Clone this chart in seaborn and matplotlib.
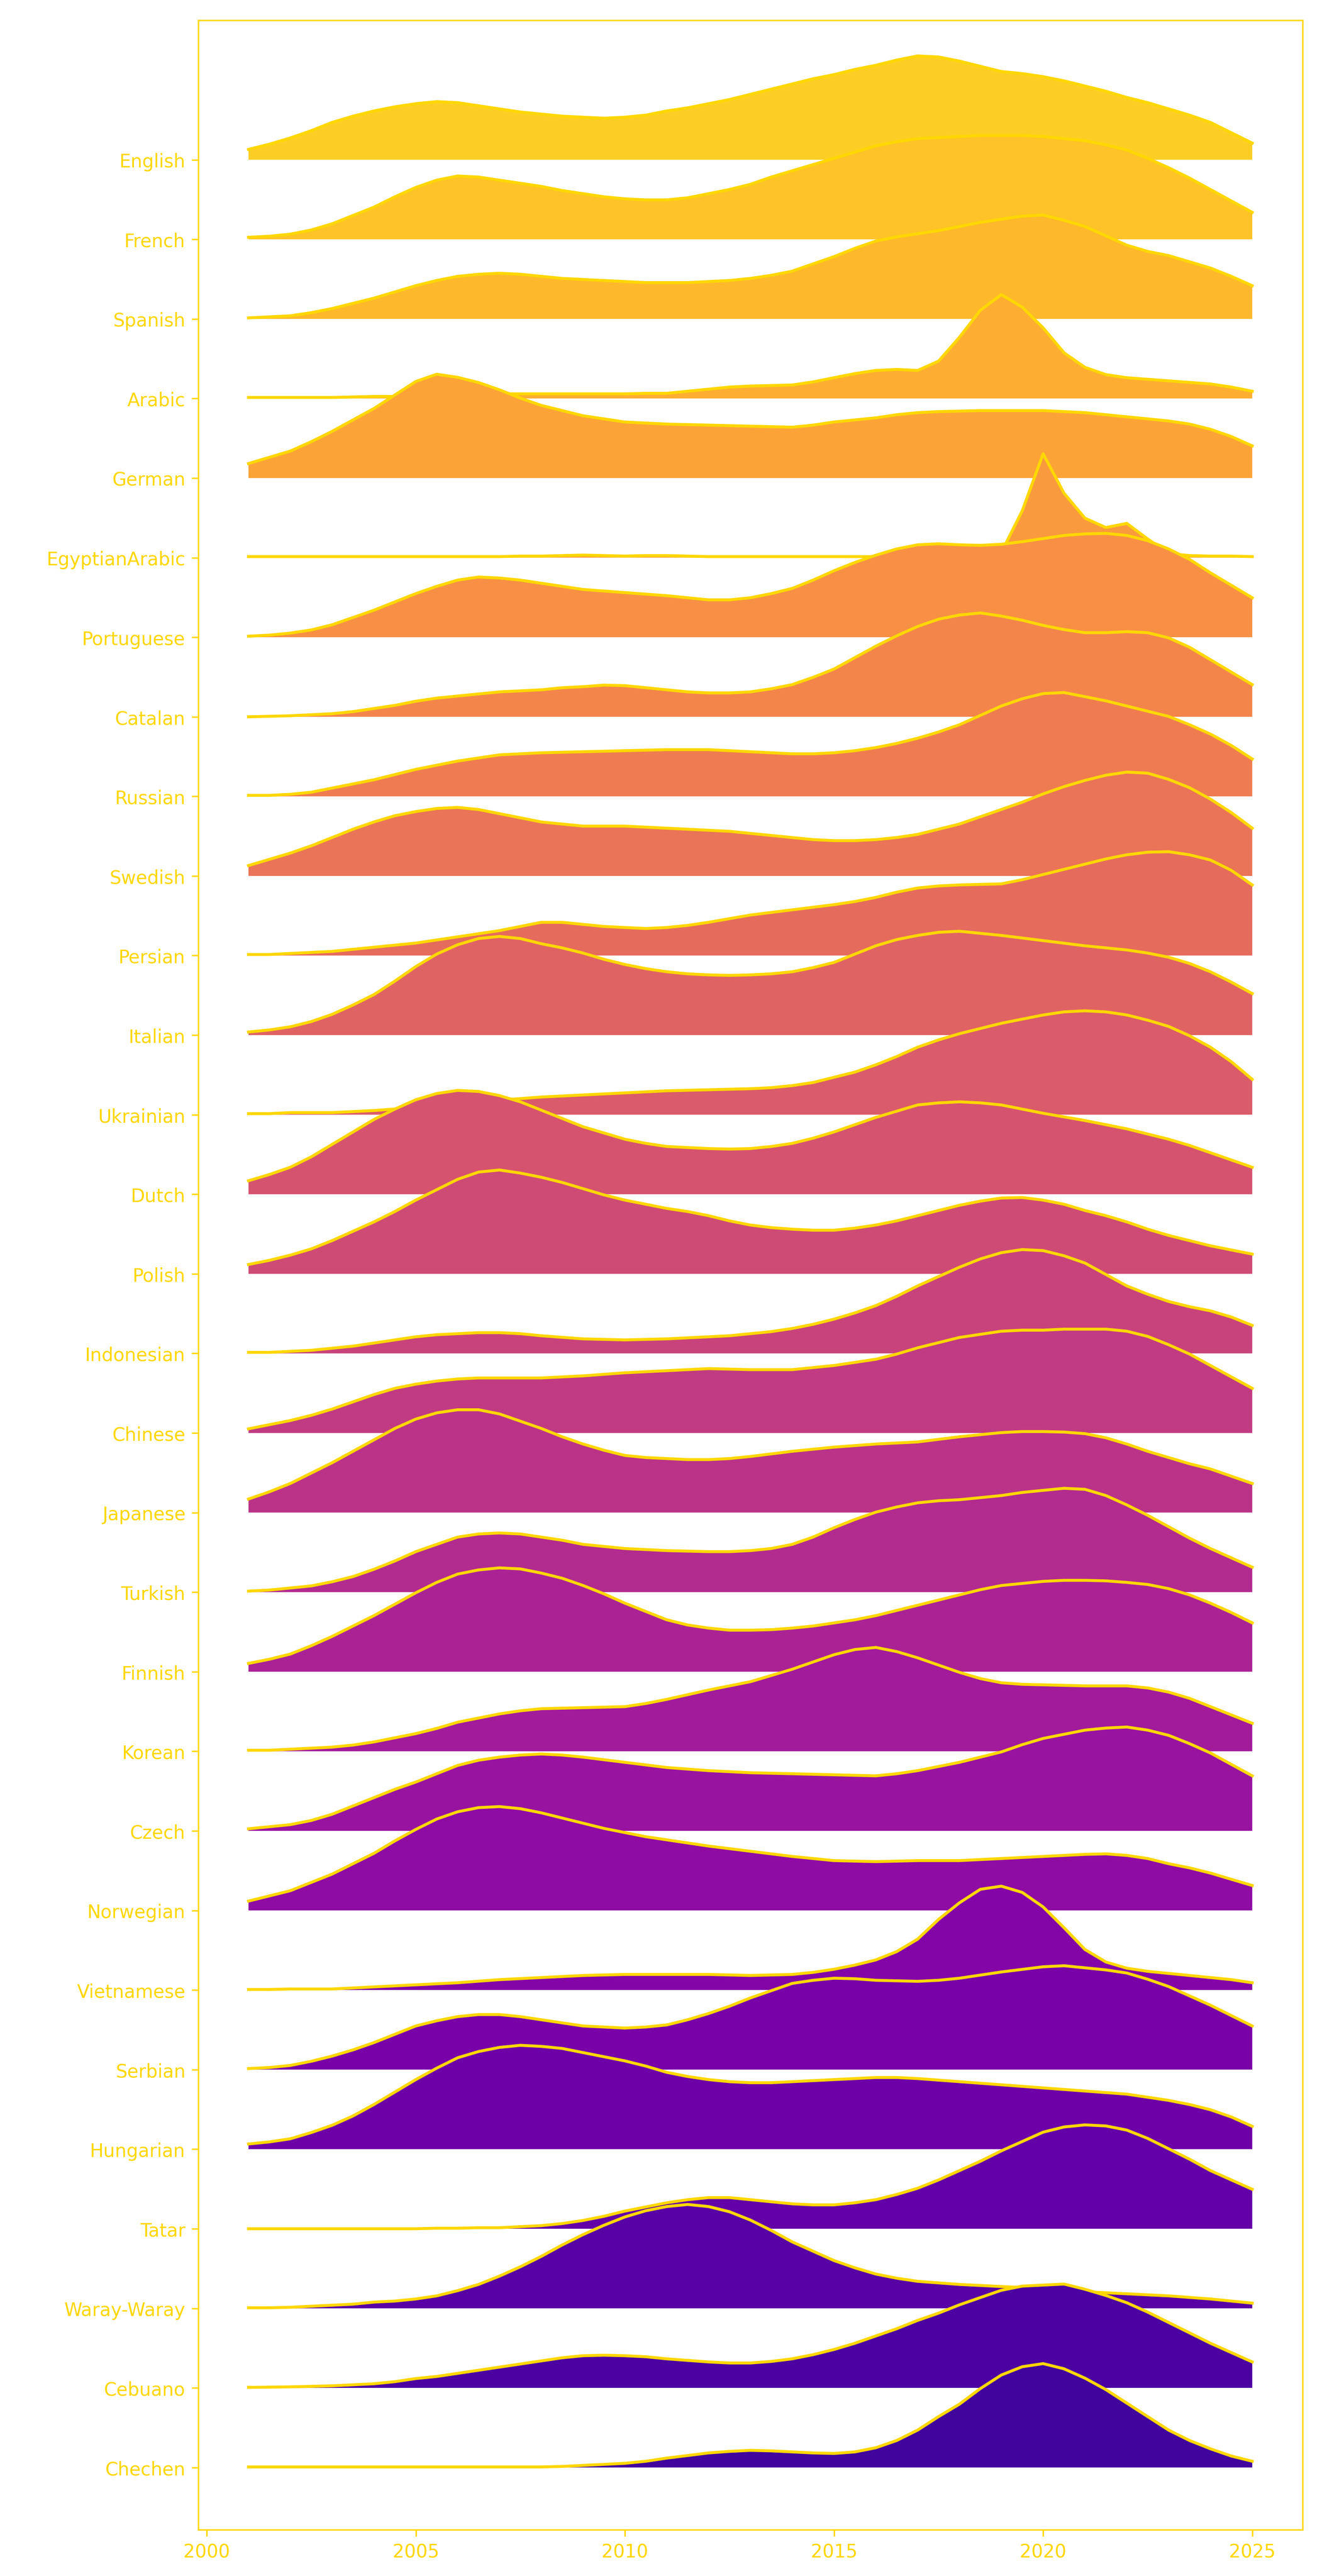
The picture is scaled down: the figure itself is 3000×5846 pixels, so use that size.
import matplotlib
matplotlib.use("Agg")
import matplotlib.pyplot as plt
import numpy as np
import seaborn as sns

# sampling positions (every half year) shared by all ridges
YEARS = np.arange(2001, 2025.01, 0.5)

LANGUAGES = [
    "English", "French", "Spanish", "Arabic", "German", "EgyptianArabic",
    "Portuguese", "Catalan", "Russian", "Swedish", "Persian", "Italian",
    "Ukrainian", "Dutch", "Polish", "Indonesian", "Chinese", "Japanese",
    "Turkish", "Finnish", "Korean", "Czech", "Norwegian", "Vietnamese",
    "Serbian", "Hungarian", "Tatar", "Waray-Waray", "Cebuano", "Chechen",
]

ENGLISH = [0.10, 0.15, 0.21, 0.28, 0.36, 0.42, 0.47, 0.51, 0.54, 0.56, 0.55, 0.52, 0.49, 0.46, 0.44, 0.42, 0.41,
           0.40, 0.41, 0.43, 0.47, 0.50, 0.54, 0.58, 0.63, 0.68, 0.73, 0.78, 0.82, 0.87, 0.91, 0.96, 1.00, 0.99,
           0.95, 0.90, 0.85, 0.83, 0.80, 0.76, 0.71, 0.66, 0.60, 0.55, 0.49, 0.43, 0.36, 0.26, 0.16]
FRENCH = [0.02, 0.03, 0.05, 0.09, 0.15, 0.23, 0.31, 0.41, 0.50, 0.57, 0.61, 0.60, 0.57, 0.54, 0.51, 0.47, 0.44,
          0.41, 0.39, 0.38, 0.38, 0.40, 0.44, 0.48, 0.53, 0.60, 0.66, 0.72, 0.78, 0.84, 0.90, 0.94, 0.97, 0.98,
          0.99, 1.00, 1.00, 1.00, 0.99, 0.97, 0.95, 0.91, 0.86, 0.78, 0.69, 0.59, 0.48, 0.37, 0.26]
SPANISH = [0.01, 0.02, 0.03, 0.06, 0.10, 0.15, 0.20, 0.26, 0.32, 0.37, 0.41, 0.43, 0.44, 0.43, 0.41, 0.39, 0.38,
           0.37, 0.36, 0.35, 0.35, 0.35, 0.36, 0.37, 0.39, 0.42, 0.46, 0.53, 0.60, 0.68, 0.75, 0.79, 0.82, 0.85,
           0.89, 0.93, 0.96, 0.99, 1.00, 0.95, 0.89, 0.80, 0.71, 0.65, 0.61, 0.55, 0.49, 0.41, 0.32]
ARABIC = [0.01, 0.01, 0.01, 0.01, 0.01, 0.015, 0.02, 0.02, 0.02, 0.025, 0.03, 0.04, 0.045, 0.045, 0.045, 0.045,
          0.045, 0.045, 0.045, 0.05, 0.05, 0.07, 0.09, 0.11, 0.12, 0.125, 0.13, 0.16, 0.20, 0.24, 0.27, 0.28, 0.27,
          0.36, 0.59, 0.85, 1.00, 0.88, 0.68, 0.44, 0.30, 0.23, 0.20, 0.185, 0.17, 0.155, 0.14, 0.11, 0.07]
GERMAN = [0.14, 0.20, 0.26, 0.35, 0.45, 0.56, 0.67, 0.80, 0.93, 1.00, 0.97, 0.92, 0.85, 0.77, 0.70, 0.65, 0.60,
          0.57, 0.54, 0.53, 0.52, 0.515, 0.51, 0.505, 0.50, 0.495, 0.49, 0.51, 0.54, 0.56, 0.58, 0.61, 0.63, 0.64,
          0.645, 0.65, 0.65, 0.65, 0.65, 0.64, 0.63, 0.61, 0.59, 0.57, 0.55, 0.52, 0.47, 0.40, 0.31]
EGYPTIAN_ARABIC = [0.01, 0.01, 0.01, 0.01, 0.01, 0.01, 0.01, 0.01, 0.01, 0.01, 0.01, 0.01, 0.01, 0.015, 0.015,
                   0.02, 0.025, 0.02, 0.015, 0.02, 0.02, 0.015, 0.01, 0.01, 0.01, 0.01, 0.01, 0.01, 0.01, 0.01,
                   0.01, 0.01, 0.01, 0.01, 0.01, 0.02, 0.05, 0.45, 1.00, 0.62, 0.38, 0.29, 0.33, 0.18, 0.04, 0.02,
                   0.015, 0.015, 0.01]
PORTUGUESE = [0.01, 0.02, 0.04, 0.07, 0.12, 0.19, 0.26, 0.34, 0.42, 0.49, 0.55, 0.58, 0.57, 0.55, 0.52, 0.49, 0.46,
              0.445, 0.43, 0.415, 0.40, 0.38, 0.36, 0.36, 0.38, 0.42, 0.47, 0.55, 0.64, 0.72, 0.79, 0.85, 0.89, 0.90,
              0.89, 0.885, 0.895, 0.92, 0.95, 0.98, 0.995, 1.00, 0.98, 0.93, 0.85, 0.75, 0.62, 0.50, 0.38]
CATALAN = [0.00, 0.005, 0.01, 0.02, 0.03, 0.05, 0.08, 0.11, 0.15, 0.18, 0.20, 0.22, 0.24, 0.25, 0.26, 0.28, 0.29,
           0.305, 0.30, 0.28, 0.26, 0.24, 0.23, 0.23, 0.24, 0.27, 0.31, 0.38, 0.46, 0.57, 0.68, 0.78, 0.87, 0.94,
           0.98, 1.00, 0.97, 0.93, 0.88, 0.84, 0.81, 0.81, 0.82, 0.81, 0.76, 0.67, 0.55, 0.43, 0.31]
RUSSIAN = [0.01, 0.01, 0.02, 0.04, 0.08, 0.12, 0.16, 0.21, 0.26, 0.30, 0.34, 0.37, 0.40, 0.41, 0.42, 0.425, 0.43,
           0.435, 0.44, 0.445, 0.45, 0.45, 0.45, 0.44, 0.43, 0.42, 0.41, 0.41, 0.42, 0.44, 0.47, 0.51, 0.56, 0.62,
           0.69, 0.78, 0.87, 0.94, 0.99, 1.00, 0.96, 0.92, 0.87, 0.82, 0.77, 0.69, 0.60, 0.49, 0.36]
SWEDISH = [0.10, 0.16, 0.22, 0.29, 0.37, 0.45, 0.52, 0.58, 0.62, 0.65, 0.66, 0.64, 0.60, 0.56, 0.52, 0.50, 0.48,
           0.48, 0.48, 0.47, 0.46, 0.45, 0.44, 0.43, 0.41, 0.39, 0.37, 0.35, 0.34, 0.34, 0.35, 0.37, 0.40, 0.45,
           0.50, 0.57, 0.64, 0.71, 0.79, 0.86, 0.92, 0.97, 1.00, 0.99, 0.93, 0.85, 0.74, 0.61, 0.46]
PERSIAN = [0.01, 0.01, 0.02, 0.03, 0.04, 0.06, 0.08, 0.10, 0.12, 0.15, 0.18, 0.21, 0.24, 0.28, 0.32, 0.32, 0.30,
           0.28, 0.27, 0.26, 0.27, 0.29, 0.32, 0.355, 0.39, 0.415, 0.44, 0.465, 0.49, 0.52, 0.56, 0.61, 0.65, 0.67,
           0.68, 0.685, 0.69, 0.73, 0.78, 0.83, 0.88, 0.93, 0.97, 0.995, 1.00, 0.97, 0.92, 0.82, 0.68]
ITALIAN = [0.03, 0.05, 0.08, 0.13, 0.20, 0.29, 0.39, 0.52, 0.66, 0.78, 0.87, 0.93, 0.95, 0.93, 0.88, 0.84, 0.79,
           0.73, 0.68, 0.64, 0.61, 0.59, 0.58, 0.575, 0.58, 0.59, 0.61, 0.65, 0.70, 0.78, 0.86, 0.92, 0.96, 0.99,
           1.00, 0.98, 0.96, 0.935, 0.91, 0.885, 0.86, 0.84, 0.82, 0.79, 0.75, 0.69, 0.61, 0.51, 0.40]
UKRAINIAN = [0.01, 0.01, 0.02, 0.02, 0.02, 0.03, 0.04, 0.055, 0.07, 0.085, 0.10, 0.12, 0.14, 0.155, 0.17, 0.18,
             0.19, 0.20, 0.21, 0.22, 0.23, 0.235, 0.24, 0.245, 0.25, 0.26, 0.28, 0.31, 0.36, 0.41, 0.48, 0.56, 0.65,
             0.72, 0.78, 0.83, 0.88, 0.92, 0.96, 0.99, 1.00, 0.99, 0.96, 0.91, 0.85, 0.76, 0.65, 0.51, 0.34]
DUTCH = [0.13, 0.19, 0.26, 0.36, 0.48, 0.60, 0.72, 0.82, 0.91, 0.97, 1.00, 0.99, 0.95, 0.89, 0.81, 0.73, 0.65,
         0.59, 0.53, 0.49, 0.46, 0.45, 0.44, 0.435, 0.44, 0.46, 0.49, 0.54, 0.60, 0.67, 0.74, 0.80, 0.86, 0.88,
         0.89, 0.88, 0.86, 0.82, 0.78, 0.745, 0.71, 0.67, 0.63, 0.58, 0.53, 0.47, 0.40, 0.33, 0.26]
POLISH = [0.09, 0.13, 0.18, 0.24, 0.32, 0.41, 0.50, 0.60, 0.71, 0.81, 0.91, 0.98, 1.00, 0.97, 0.93, 0.88, 0.82,
          0.76, 0.71, 0.67, 0.63, 0.60, 0.56, 0.51, 0.47, 0.445, 0.43, 0.42, 0.42, 0.44, 0.47, 0.51, 0.56, 0.61,
          0.66, 0.70, 0.73, 0.735, 0.71, 0.67, 0.61, 0.56, 0.50, 0.43, 0.37, 0.32, 0.27, 0.23, 0.19]
INDONESIAN = [0.01, 0.01, 0.02, 0.03, 0.05, 0.07, 0.10, 0.13, 0.16, 0.18, 0.19, 0.20, 0.20, 0.19, 0.17, 0.155, 0.14,
              0.135, 0.13, 0.135, 0.14, 0.15, 0.16, 0.17, 0.19, 0.21, 0.24, 0.28, 0.33, 0.39, 0.46, 0.55, 0.65,
              0.74, 0.83, 0.91, 0.97, 1.00, 0.99, 0.94, 0.87, 0.76, 0.65, 0.57, 0.50, 0.45, 0.41, 0.35, 0.27]
CHINESE = [0.04, 0.08, 0.12, 0.17, 0.23, 0.30, 0.37, 0.43, 0.47, 0.50, 0.52, 0.53, 0.53, 0.53, 0.53, 0.54, 0.55,
           0.565, 0.58, 0.59, 0.60, 0.61, 0.62, 0.615, 0.61, 0.61, 0.61, 0.63, 0.65, 0.68, 0.71, 0.76, 0.82, 0.87,
           0.92, 0.95, 0.98, 0.99, 0.99, 1.00, 1.00, 1.00, 0.98, 0.93, 0.85, 0.76, 0.65, 0.54, 0.43]
JAPANESE = [0.13, 0.20, 0.28, 0.38, 0.48, 0.59, 0.70, 0.81, 0.90, 0.96, 0.99, 0.99, 0.95, 0.88, 0.81, 0.73, 0.66,
            0.60, 0.55, 0.53, 0.52, 0.51, 0.51, 0.52, 0.54, 0.565, 0.59, 0.61, 0.63, 0.645, 0.66, 0.67, 0.68, 0.705,
            0.73, 0.75, 0.77, 0.78, 0.78, 0.775, 0.76, 0.72, 0.66, 0.59, 0.53, 0.47, 0.42, 0.35, 0.28]
TURKISH = [0.01, 0.02, 0.04, 0.06, 0.10, 0.15, 0.22, 0.30, 0.39, 0.46, 0.53, 0.56, 0.57, 0.56, 0.53, 0.50, 0.46,
           0.44, 0.42, 0.41, 0.40, 0.395, 0.39, 0.39, 0.40, 0.42, 0.46, 0.53, 0.62, 0.70, 0.77, 0.82, 0.86, 0.88,
           0.89, 0.91, 0.93, 0.96, 0.98, 1.00, 0.99, 0.93, 0.84, 0.74, 0.63, 0.52, 0.42, 0.33, 0.24]
FINNISH = [0.08, 0.12, 0.17, 0.25, 0.34, 0.44, 0.54, 0.65, 0.76, 0.86, 0.94, 0.98, 1.00, 0.99, 0.95, 0.90, 0.83,
           0.75, 0.66, 0.58, 0.50, 0.45, 0.42, 0.40, 0.40, 0.405, 0.42, 0.44, 0.47, 0.50, 0.54, 0.59, 0.64, 0.69,
           0.74, 0.79, 0.83, 0.85, 0.87, 0.88, 0.88, 0.875, 0.86, 0.84, 0.80, 0.74, 0.66, 0.57, 0.47]
KOREAN = [0.01, 0.01, 0.02, 0.03, 0.04, 0.06, 0.09, 0.13, 0.17, 0.22, 0.28, 0.32, 0.36, 0.39, 0.41, 0.415, 0.42,
          0.425, 0.43, 0.46, 0.50, 0.545, 0.59, 0.63, 0.67, 0.73, 0.79, 0.86, 0.93, 0.98, 1.00, 0.96, 0.90, 0.83,
          0.76, 0.70, 0.66, 0.645, 0.64, 0.635, 0.63, 0.63, 0.63, 0.61, 0.57, 0.51, 0.43, 0.35, 0.27]
CZECH = [0.02, 0.04, 0.06, 0.10, 0.16, 0.24, 0.32, 0.40, 0.47, 0.55, 0.63, 0.68, 0.71, 0.73, 0.74, 0.73, 0.71,
         0.685, 0.66, 0.635, 0.61, 0.595, 0.58, 0.57, 0.56, 0.555, 0.55, 0.545, 0.54, 0.535, 0.53, 0.55, 0.58, 0.62,
         0.66, 0.71, 0.76, 0.83, 0.89, 0.93, 0.97, 0.99, 1.00, 0.97, 0.92, 0.84, 0.75, 0.64, 0.53]
NORWEGIAN = [0.09, 0.14, 0.19, 0.27, 0.35, 0.45, 0.55, 0.67, 0.78, 0.88, 0.95, 0.99, 1.00, 0.98, 0.94, 0.89, 0.84,
             0.79, 0.75, 0.71, 0.68, 0.65, 0.62, 0.595, 0.57, 0.545, 0.52, 0.50, 0.48, 0.475, 0.47, 0.475, 0.48,
             0.48, 0.48, 0.49, 0.50, 0.51, 0.52, 0.53, 0.54, 0.545, 0.53, 0.50, 0.45, 0.41, 0.36, 0.30, 0.24]
VIETNAMESE = [0.005, 0.005, 0.01, 0.01, 0.01, 0.02, 0.03, 0.04, 0.05, 0.06, 0.07, 0.085, 0.10, 0.11, 0.12, 0.13,
              0.14, 0.145, 0.15, 0.15, 0.15, 0.15, 0.15, 0.145, 0.14, 0.145, 0.15, 0.17, 0.20, 0.24, 0.29, 0.37,
              0.49, 0.68, 0.84, 0.97, 1.00, 0.94, 0.80, 0.60, 0.39, 0.27, 0.21, 0.18, 0.16, 0.14, 0.12, 0.10, 0.07]
SERBIAN = [0.01, 0.02, 0.04, 0.08, 0.13, 0.19, 0.26, 0.34, 0.42, 0.47, 0.51, 0.53, 0.53, 0.51, 0.48, 0.45, 0.42,
           0.41, 0.40, 0.41, 0.43, 0.48, 0.54, 0.61, 0.69, 0.76, 0.83, 0.86, 0.88, 0.875, 0.86, 0.855, 0.85, 0.86,
           0.88, 0.91, 0.94, 0.965, 0.99, 1.00, 0.98, 0.96, 0.93, 0.87, 0.80, 0.71, 0.62, 0.52, 0.42]
HUNGARIAN = [0.05, 0.07, 0.10, 0.16, 0.23, 0.32, 0.43, 0.55, 0.67, 0.78, 0.88, 0.94, 0.98, 1.00, 0.99, 0.97, 0.93,
             0.89, 0.85, 0.80, 0.74, 0.70, 0.67, 0.65, 0.64, 0.64, 0.65, 0.66, 0.67, 0.68, 0.69, 0.69, 0.68, 0.665,
             0.65, 0.635, 0.62, 0.605, 0.59, 0.575, 0.56, 0.545, 0.53, 0.50, 0.47, 0.43, 0.38, 0.31, 0.22]
TATAR = [0.0, 0.0, 0.0, 0.0, 0.0, 0.0, 0.0, 0.0, 0.0, 0.005, 0.005, 0.01, 0.01, 0.02, 0.03, 0.05, 0.08, 0.12,
         0.17, 0.21, 0.25, 0.28, 0.30, 0.30, 0.28, 0.26, 0.24, 0.23, 0.23, 0.25, 0.28, 0.33, 0.39, 0.47, 0.56,
         0.65, 0.75, 0.84, 0.93, 0.98, 1.00, 0.99, 0.95, 0.87, 0.77, 0.67, 0.56, 0.47, 0.38]
WARAY_WARAY = [0.005, 0.005, 0.01, 0.02, 0.03, 0.04, 0.06, 0.07, 0.09, 0.12, 0.17, 0.23, 0.31, 0.40, 0.50, 0.61,
               0.71, 0.80, 0.88, 0.94, 0.98, 1.00, 0.98, 0.93, 0.85, 0.75, 0.64, 0.55, 0.46, 0.39, 0.33, 0.29, 0.26,
               0.245, 0.23, 0.22, 0.21, 0.20, 0.19, 0.175, 0.16, 0.15, 0.14, 0.13, 0.12, 0.105, 0.09, 0.07, 0.05]
CEBUANO = [0.005, 0.007, 0.01, 0.015, 0.02, 0.03, 0.04, 0.06, 0.09, 0.11, 0.14, 0.17, 0.20, 0.23, 0.26, 0.29, 0.31,
           0.315, 0.31, 0.30, 0.28, 0.265, 0.25, 0.24, 0.24, 0.255, 0.28, 0.32, 0.37, 0.43, 0.50, 0.57, 0.65, 0.72,
           0.80, 0.87, 0.94, 0.98, 0.99, 1.00, 0.95, 0.89, 0.82, 0.73, 0.63, 0.53, 0.43, 0.34, 0.25]
CHECHEN = [0.005, 0.005, 0.005, 0.005, 0.005, 0.005, 0.005, 0.005, 0.005, 0.005, 0.005, 0.005, 0.005, 0.005,
           0.005, 0.01, 0.02, 0.03, 0.04, 0.06, 0.09, 0.115, 0.14, 0.155, 0.165, 0.16, 0.15, 0.14, 0.135, 0.15,
           0.19, 0.26, 0.36, 0.49, 0.61, 0.76, 0.89, 0.97, 1.00, 0.95, 0.86, 0.75, 0.62, 0.49, 0.36, 0.26, 0.18,
           0.11, 0.06]

DENSITIES = [
    ENGLISH, FRENCH, SPANISH, ARABIC, GERMAN, EGYPTIAN_ARABIC, PORTUGUESE, CATALAN, RUSSIAN, SWEDISH,
    PERSIAN, ITALIAN, UKRAINIAN, DUTCH, POLISH, INDONESIAN, CHINESE, JAPANESE, TURKISH, FINNISH,
    KOREAN, CZECH, NORWEGIAN, VIETNAMESE, SERBIAN, HUNGARIAN, TATAR, WARAY_WARAY, CEBUANO, CHECHEN,
]

OVERLAP = 1.305          # ridge peak height, in rows
LINE_COLOR = "gold"


def main() -> None:
    for name, vals in zip(LANGUAGES, DENSITIES):
        if len(vals) != len(YEARS):
            raise ValueError(f"{name}: {len(vals)} values")

    n = len(LANGUAGES)
    cmap = plt.get_cmap("plasma")
    colors = cmap(np.linspace(0.9, 0.1, n))

    fig = plt.figure(figsize=(10, 19.49), dpi=300)
    ax = fig.add_axes([0.15, 0.01791, 0.8352, 0.97405])

    # upper ridges first, so each lower ridge is drawn over the one above it
    for i, (name, vals) in enumerate(zip(LANGUAGES, DENSITIES)):
        base = n - 1 - i
        top = base + OVERLAP * np.asarray(vals)
        ax.fill_between(YEARS, base, top, facecolor=colors[i], linewidth=0, zorder=2 * i + 1)
        sns.lineplot(x=YEARS, y=top, color=LINE_COLOR, linewidth=1.6, estimator=None,
                     sort=False, ax=ax, zorder=2 * i + 2)

    ax.set_xlim(1999.8, 2026.2)
    ax.set_ylim(-0.784, 30.753)
    ax.set_yticks(range(n))
    ax.set_yticklabels(LANGUAGES[::-1])
    ax.set_xticks([2000, 2005, 2010, 2015, 2020, 2025])
    ax.set_xlabel("")
    ax.set_ylabel("")
    ax.tick_params(colors=LINE_COLOR, labelsize=10)
    for spine in ax.spines.values():
        spine.set_color(LINE_COLOR)
        spine.set_linewidth(0.8)

    fig.savefig("out.png", dpi=300, facecolor="white")
    plt.close(fig)


if __name__ == "__main__":
    main()
